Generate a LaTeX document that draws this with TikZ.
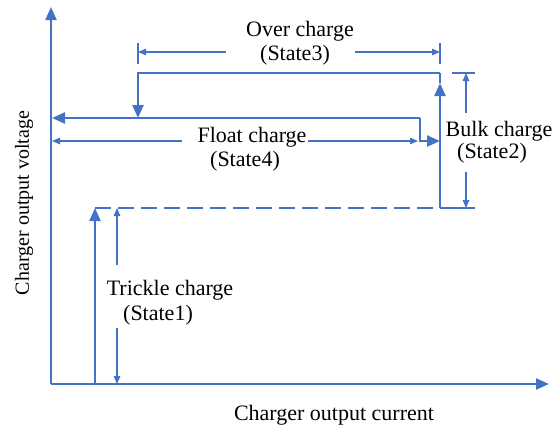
\documentclass[tikz,border=0pt]{standalone}
\usepackage{fontspec}
\setmainfont{Liberation Serif}
\usetikzlibrary{arrows.meta}
\definecolor{cblue}{RGB}{68,114,196}
\begin{document}
\begin{tikzpicture}[x=1pt,y=-1pt,
  thickline/.style={draw=cblue,line width=2.3pt},
  thinline/.style={draw=cblue,line width=1.1pt},
  bigtip/.style={-{Triangle[length=13pt,width=11pt]}},
  smalltip/.style={-{Triangle[length=8pt,width=6.5pt]}},
  lbl/.style={font=\fontsize{22}{26}\selectfont, inner sep=0pt}]
\useasboundingbox (0,0) rectangle (555,429);
% coordinates
\coordinate (O) at (51,384);
\coordinate (Ytop) at (51,7);
\coordinate (Xend) at (549,384);
\coordinate (T0) at (95,384);
\coordinate (T1) at (95,208);
\coordinate (D1) at (440,208);
\coordinate (B1) at (440,83);
\coordinate (B2) at (440,73);
\coordinate (OC1) at (138,73);
\coordinate (OC2) at (138,118);
\coordinate (F0) at (420,118);
\coordinate (F1) at (52,118);
\coordinate (F2) at (420,141);
\coordinate (F3) at (440,141);
% axes
\draw[thickline,bigtip] (O) -- (Ytop);
\draw[thickline,bigtip] (O) -- (Xend);
% trickle
\draw[thickline,bigtip] (T0) -- (T1);
\draw[thickline,dash pattern=on 16pt off 7pt] (T1) -- (D1);
% bulk
\draw[thickline,bigtip] (D1) -- (B1);
\draw[thickline] (B1) -- (B2);
% over charge
\draw[thickline,bigtip] (B2) -- (OC1) -- (OC2);
% float
\draw[thickline,bigtip] (F0) -- (F1);
\draw[thickline,bigtip] (F0) -- (F2) -- (F3);
% over charge dimension
\coordinate (oa) at (138,43); \coordinate (ob) at (138,64);
\coordinate (oc) at (440,43); \coordinate (od) at (440,64);
\coordinate (oL) at (138,52); \coordinate (oR) at (440,52);
\coordinate (oLs) at (226,52); \coordinate (oRs) at (355,52);
\draw[thinline] (oa) -- (ob);
\draw[thinline] (oc) -- (od);
\draw[thinline,smalltip] (oLs) -- (oL);
\draw[thinline,smalltip] (oRs) -- (oR);
\node[lbl] (overt) at (300,31) {Over charge};
\node[lbl] (overs) at (295,55) {(State3)};
% float dimension
\coordinate (fL) at (52,141); \coordinate (fR) at (418,141);
\coordinate (fLs) at (182,141); \coordinate (fRs) at (308,141);
\draw[thinline,smalltip] (fLs) -- (fL);
\draw[thinline,smalltip] (fRs) -- (fR);
\node[lbl] (floatt) at (252,137) {Float charge};
\node[lbl] (floats) at (245,161) {(State4)};
% bulk dimension
\coordinate (ba) at (452,73); \coordinate (bb) at (475,73);
\coordinate (bc) at (440,208); \coordinate (bd) at (475,208);
\coordinate (bT) at (466,73); \coordinate (bB) at (466,208);
\coordinate (bTs) at (466,113); \coordinate (bBs) at (466,172);
\draw[thinline] (ba) -- (bb);
\draw[thinline] (bc) -- (bd);
\draw[thinline,smalltip] (bTs) -- (bT);
\draw[thinline,smalltip] (bBs) -- (bB);
\node[lbl] (bulkt) at (499,131) {Bulk charge};
\node[lbl] (bulks) at (492,153) {(State2)};
% trickle dimension
\coordinate (tT) at (117,208); \coordinate (tB) at (117,384);
\coordinate (tTs) at (117,265); \coordinate (tBs) at (117,328);
\draw[thinline,smalltip] (tTs) -- (tT);
\draw[thinline,smalltip] (tBs) -- (tB);
\node[lbl] (tricklet) at (170,290) {Trickle charge};
\node[lbl] (trickles) at (158,315) {(State1)};
% axis labels
\node[lbl,font=\fontsize{20}{24}\selectfont,rotate=90] (ylab) at (24,203) {Charger output voltage};
\node[lbl] (xlab) at (334,415) {Charger output current};
\end{tikzpicture}
\end{document}
